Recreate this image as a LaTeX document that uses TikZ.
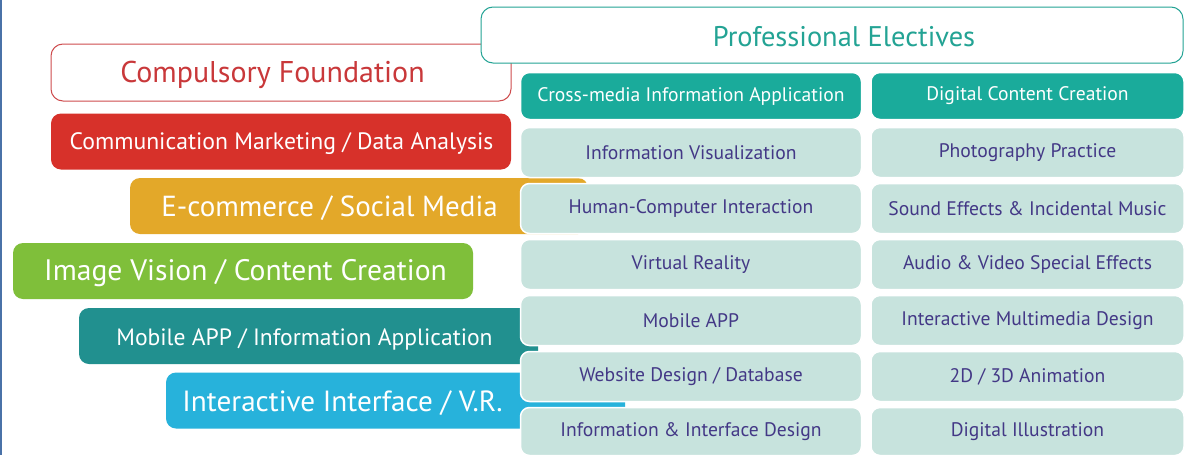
\documentclass[tikz,border=0pt]{standalone}
\usepackage{fontspec}
\setmainfont{PT Sans}
\definecolor{leftline}{HTML}{4A72A8}
\definecolor{cred}{HTML}{D7312A}
\definecolor{corange}{HTML}{E3A829}
\definecolor{cgreen}{HTML}{7FBF3A}
\definecolor{cteal}{HTML}{21908F}
\definecolor{cblue}{HTML}{27B2DB}
\definecolor{chead}{HTML}{1AAB9B}
\definecolor{ccell}{HTML}{C7E3DD}
\definecolor{ctext}{HTML}{433886}
\definecolor{petext}{HTML}{23A394}
\definecolor{cftext}{HTML}{C9383A}
\tikzset{
  bar/.style={rounded corners=10pt, inner sep=0pt, minimum height=56pt},
  bartext/.style={text=white, inner sep=0pt},
  headbox/.style={rounded corners=12pt, inner sep=0pt, fill=white, line width=1pt},
  cell/.style={rounded corners=9pt, inner sep=0pt, fill=ccell, draw=white, line width=1.5pt, text=ctext, font=\fontsize{19.6}{22}\selectfont},
  hcell/.style={cell, fill=chead, text=white},
}
\begin{document}
\begin{tikzpicture}[x=1pt,y=-1pt]
\useasboundingbox (0,0) rectangle (1185,455);
\fill[white] (0,0) rectangle (1185,455);
\fill[leftline] (0,0) rectangle (2,455);
% compulsory foundation box
\node[headbox, draw=cftext!90, minimum width=460pt, minimum height=57pt] (cf) at (281,72.5) {};
\node[text=cftext, inner sep=0pt, font=\fontsize{30}{34}\selectfont] (cft) at (272.5,75) {Compulsory Foundation};
% professional electives box
\node[headbox, draw=petext, minimum width=702pt, minimum height=56pt] (pe) at (832,35) {};
\node[text=petext, inner sep=0pt, font=\fontsize{28.4}{32}\selectfont] (pet) at (844,36.5) {Professional Electives};
% colored bars
\node[bar, fill=cred, minimum width=460pt] (b1) at (281,141.5) {};
\node[bartext, font=\fontsize{23.7}{28}\selectfont] (t1) at (281.5,144) {Communication Marketing / Data Analysis};
\node[bar, fill=corange, minimum width=458pt] (b2) at (359,206) {};
\node[bartext, font=\fontsize{29}{32}\selectfont] (t2) at (329.5,208) {E-commerce / Social Media};
\node[bar, fill=cgreen, minimum width=460pt] (b3) at (243,271) {};
\node[bartext, font=\fontsize{29.6}{32}\selectfont] (t3) at (245.5,273) {Image Vision / Content Creation};
\node[bar, fill=cteal, minimum width=459pt] (b4) at (308.5,336) {};
\node[bartext, font=\fontsize{23.6}{28}\selectfont] (t4) at (304.5,339) {Mobile APP / Information Application};
\node[bar, fill=cblue, minimum width=459pt] (b5) at (395.5,400.5) {};
\node[bartext, font=\fontsize{29.2}{32}\selectfont] (t5) at (342.5,403) {Interactive Interface / V.R.};
% left column cells
\node[hcell, minimum width=341pt, minimum height=47pt] (h1) at (691,96) {Cross-media Information Application};
\node[cell, minimum width=341pt, minimum height=50pt] (l1) at (691,152.5) {Information Visualization};
\node[cell, minimum width=341pt, minimum height=50pt] (l2) at (691,208.5) {Human-Computer Interaction};
\node[cell, minimum width=341pt, minimum height=50pt] (l3) at (691,264.5) {Virtual Reality};
\node[cell, minimum width=341pt, minimum height=50pt] (l4) at (691,320.5) {Mobile APP};
\node[cell, minimum width=341pt, minimum height=50pt] (l5) at (691,376.5) {Website Design / Database};
\node[cell, minimum width=341pt, minimum height=48pt] (l6) at (691,431.5) {Information \& Interface Design};
% right column cells
\node[hcell, minimum width=313pt, minimum height=47pt] (h2) at (1027.5,96) {Digital Content Creation};
\node[cell, minimum width=313pt, minimum height=50pt] (r1) at (1027.5,152.5) {Photography Practice};
\node[cell, minimum width=313pt, minimum height=50pt] (r2) at (1027.5,208.5) {Sound Effects \& Incidental Music};
\node[cell, minimum width=313pt, minimum height=50pt] (r3) at (1027.5,264.5) {Audio \& Video Special Effects};
\node[cell, minimum width=313pt, minimum height=50pt] (r4) at (1027.5,320.5) {Interactive Multimedia Design};
\node[cell, minimum width=313pt, minimum height=50pt] (r5) at (1027.5,376.5) {2D / 3D Animation};
\node[cell, minimum width=313pt, minimum height=48pt] (r6) at (1027.5,431.5) {Digital Illustration};
\end{tikzpicture}
\end{document}
